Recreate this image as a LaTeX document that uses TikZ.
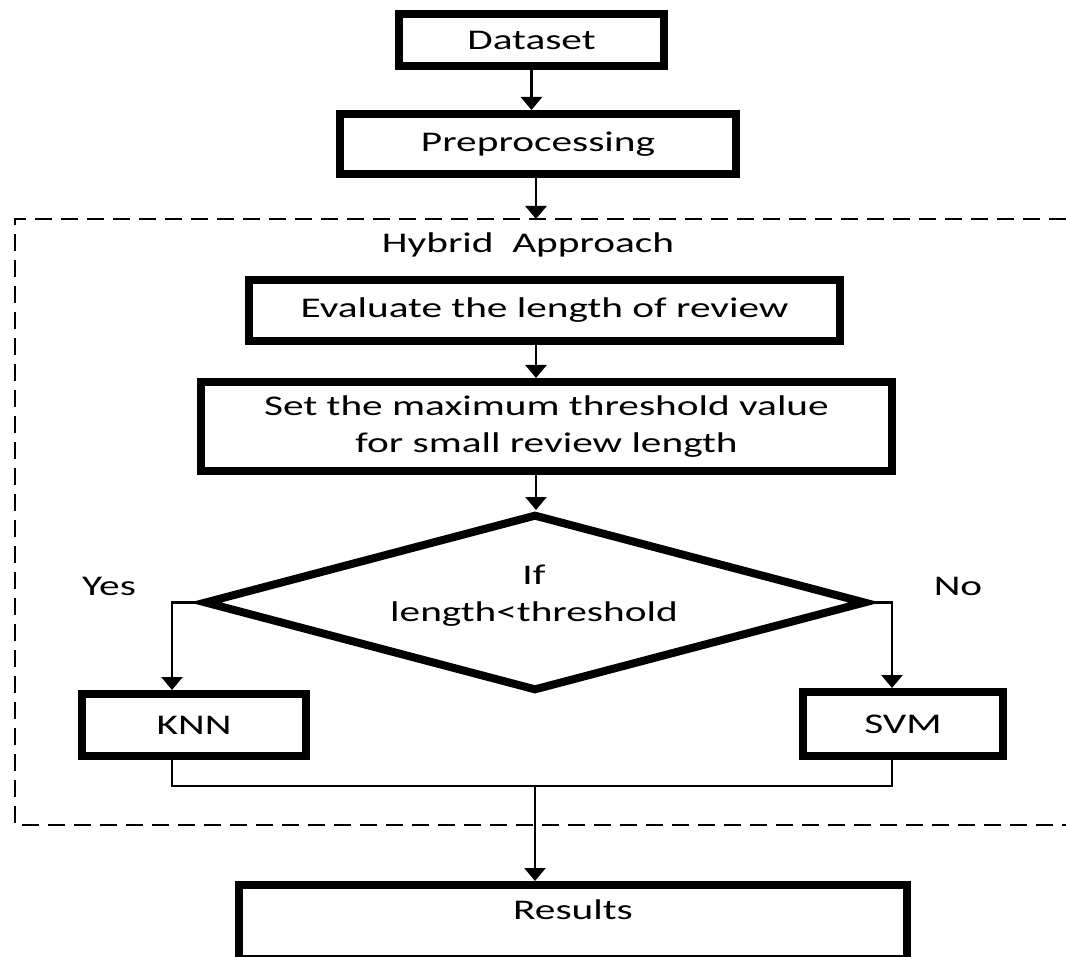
\documentclass[tikz,border=0pt]{standalone}
\usepackage{fontspec}
\setmainfont{Carlito}[FakeStretch=1.45]
\usetikzlibrary{arrows.meta,shapes.geometric}
\begin{document}
\begin{tikzpicture}[x=1pt,y=-1pt,
  txt/.style={inner sep=0pt,align=center,font=\fontsize{28.5}{37}\selectfont},
  box/.style={txt,draw,line width=8pt,rectangle},
  dia/.style={draw,line width=8pt,diamond,inner sep=0pt,aspect=3.7},
  conn/.style={line width=2.5pt},
  arr/.style={conn,-{Triangle[width=21pt,length=13pt]}},
  dashbox/.style={line width=2.5pt,dash pattern=on 17pt off 9pt}]
\useasboundingbox (0,0) rectangle (1066,957);
\coordinate (ax) at (536,0);
% dashed frame
\draw[dashbox] (1066,219) -- (15,219) -- (15,825) -- (1066,825);
% nodes
\node[box,minimum width=265pt,minimum height=52pt] (data) at (531.5,40) {Dataset};
\node[box,minimum width=396pt,minimum height=60pt] (prep) at (538,144) {Preprocessing};
\coordinate (ftop) at (536,219);
\node[txt] (hyb) at (528,245) {Hybrid\ \ Approach};
\node[box,minimum width=591pt,minimum height=61pt] (eval) at (544.5,310.5) {Evaluate the length of review};
\node[box,minimum width=691pt,minimum height=89pt] (set) at (546.5,426.5) {Set the maximum threshold value\\for small review length};
\node[dia,minimum width=662pt,minimum height=177pt] (cond) at (535,602.5) {};
\node[txt] (condtxt) at (534,596) {If\\length<threshold};
\node[txt] (yes) at (109,586) {Yes};
\node[txt] (no) at (958,586) {No};
\node[box,minimum width=224pt,minimum height=62pt] (knn) at (194,725) {KNN};
\node[box,minimum width=200pt,minimum height=64pt] (svm) at (903,724) {SVM};
\coordinate (merge) at (535,786);
\node[box,minimum width=668pt,minimum height=74pt] (res) at (573,922) {};
\node[txt] (restxt) at (573,910) {Results};
% connectors
\draw[arr] (data.south) -- (data.south |- prep.north);
\draw[arr] (prep.south -| ax) -- (ftop);
\draw[arr] (eval.south -| ax) -- (set.north -| ax);
\draw[arr] (set.south -| ax) -- (cond.north -| ax);
\draw[arr] (cond.west) -| ([xshift=-22pt]knn.north);
\draw[arr] (cond.east) -| ([xshift=-11pt]svm.north);
\draw[conn] ([xshift=-22pt]knn.south) |- (merge) -| ([xshift=-11pt]svm.south);
\draw[arr] (merge) -- (merge |- res.north);
\end{tikzpicture}
\end{document}
